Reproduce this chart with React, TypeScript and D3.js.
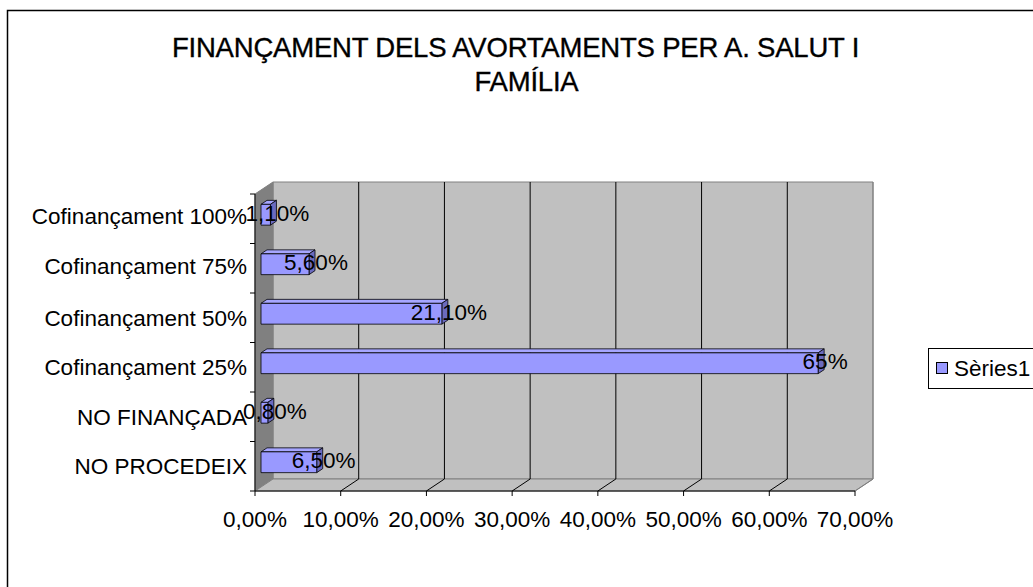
import React from "react";
import * as d3 from "d3";

const categories = [
  "Cofinançament 100%",
  "Cofinançament 75%",
  "Cofinançament 50%",
  "Cofinançament 25%",
  "NO FINANÇADA",
  "NO PROCEDEIX",
];
const values = [0.011, 0.056, 0.211, 0.65, 0.008, 0.065];
const valueLabels = ["1,10%", "5,60%", "21,10%", "65%", "0,80%", "6,50%"];
const tickValues = [0, 0.1, 0.2, 0.3, 0.4, 0.5, 0.6, 0.7];
const tickLabels = ["0,00%", "10,00%", "20,00%", "30,00%", "40,00%", "50,00%", "60,00%", "70,00%"];
const seriesName = "Sèries1";
const titleLines = ["FINANÇAMENT DELS AVORTAMENTS PER A. SALUT I", "FAMÍLIA"];

const W = 1033;
const H = 587;
const FONT = "'Liberation Sans', Arial, sans-serif";

export default function App() {
  const x0 = 255, x1 = 855, yTop = 194, yBot = 491;
  const DX = 18, DY = -12;
  const x = d3.scaleLinear().domain([0, 0.7]).range([x0, x1]);
  const y = d3.scaleBand<string>().domain(categories).range([yTop, yBot]).paddingInner(0.58).paddingOuter(0.29);
  const yb = d3.scaleBand<string>().domain(categories).range([yTop, yBot]);
  const pts = (arr: number[][]) => arr.map((p) => p.join(",")).join(" ");

  const fx = DX / 3, fy = DY / 3; // bar front depth offset
  const bx = (2 * DX) / 3, by = (2 * DY) / 3; // bar back depth offset
  const titleX = [515.5, 526.5];
  const titleY = [56.5, 90.5];

  return (
    <svg width={W} height={H} style={{ position: "absolute", left: 0, top: 0, background: "#fff" }} fontFamily={FONT}>
      <rect x={7.5} y={10.5} width={1200} height={800} fill="#fff" stroke="#000" strokeWidth={1.5} />
      {titleLines.map((t, i) => (
        <text key={i} x={titleX[i]} y={titleY[i]} textAnchor="middle" fontSize={27.5} fill="#000" stroke="#000" strokeWidth={0.35} letterSpacing={-0.2}>
          {t}
        </text>
      ))}
      {/* back wall */}
      <polygon points={pts([[x0 + DX, yTop + DY], [x1 + DX, yTop + DY], [x1 + DX, yBot + DY], [x0 + DX, yBot + DY]])} fill="#c0c0c0" stroke="#808080" strokeWidth={1} />
      {/* left wall */}
      <polygon points={pts([[x0, yTop], [x0 + DX, yTop + DY], [x0 + DX, yBot + DY], [x0, yBot]])} fill="#808080" stroke="#808080" strokeWidth={1} />
      {/* floor */}
      <polygon points={pts([[x0, yBot], [x1, yBot], [x1 + DX, yBot + DY], [x0 + DX, yBot + DY]])} fill="#c0c0c0" stroke="#808080" strokeWidth={1} />
      {/* gridlines */}
      {tickValues.slice(1).map((v, i) => (
        <g key={i}>
          <line x1={x(v) + DX} x2={x(v) + DX} y1={yTop + DY} y2={yBot + DY} stroke={v === 0.7 ? "#808080" : "#000"} strokeWidth={1} />
          <line x1={x(v)} y1={yBot} x2={x(v) + DX} y2={yBot + DY} stroke={v === 0.7 ? "#808080" : "#000"} strokeWidth={1} />
        </g>
      ))}
      {/* axes */}
      <line x1={x0} x2={x0} y1={yTop} y2={yBot} stroke="#000" strokeWidth={1} />
      <line x1={x0} x2={x1} y1={yBot} y2={yBot} stroke="#000" strokeWidth={1} />
      {categories.map((c, i) => (
        <line key={i} x1={x0 - 5} x2={x0} y1={yb(c)!} y2={yb(c)!} stroke="#000" />
      ))}
      <line x1={x0 - 5} x2={x0} y1={yBot} y2={yBot} stroke="#000" />
      {tickValues.map((v, i) => (
        <line key={i} x1={x(v)} x2={x(v)} y1={yBot} y2={yBot + 5} stroke="#000" />
      ))}
      {tickValues.map((v, i) => (
        <text key={i} x={x(v)} y={527} textAnchor="middle" fontSize={22.5} fill="#000">
          {tickLabels[i]}
        </text>
      ))}
      {categories.map((c, i) => (
        <text key={i} x={247} y={yb(c)! + yb.bandwidth() / 2 + 8 - (i === 0 ? 3 : i === 1 ? 2 : 0)} textAnchor="end" fontSize={22.5} fill="#000">
          {c}
        </text>
      ))}
      {/* bars */}
      {categories.map((c, i) => {
        const xs = x(0) + fx;
        const xe = x(values[i]) + fx;
        const yt = y(c)! + fy;
        const ybm = yt + y.bandwidth();
        const ddx = bx - fx, ddy = by - fy;
        return (
          <g key={i} stroke="#000" strokeWidth={0.8} strokeLinejoin="round">
            <polygon points={pts([[xs, yt], [xe, yt], [xe + ddx, yt + ddy], [xs + ddx, yt + ddy]])} fill="#a6a6ff" />
            <polygon points={pts([[xe, yt], [xe + ddx, yt + ddy], [xe + ddx, ybm + ddy], [xe, ybm]])} fill="#6b6bbf" />
            <rect x={xs} y={yt} width={xe - xs} height={ybm - yt} fill="#9999ff" />
          </g>
        );
      })}
      {categories.map((c, i) => (
        <text key={i} x={x(values[i]) + (fx + bx) / 2 + 4} y={y(c)! + (fy + by) / 2 + y.bandwidth() / 2 + 8} textAnchor="middle" fontSize={22.5} fill="#000">
          {valueLabels[i]}
        </text>
      ))}
      {/* legend */}
      <rect x={928.5} y={348.5} width={200} height={40} fill="#fff" stroke="#000" strokeWidth={1} />
      <rect x={936.5} y={362.5} width={11} height={11} fill="#9999ff" stroke="#000" strokeWidth={1} />
      <text x={954} y={376} fontSize={22.5} fill="#000">{seriesName}</text>
    </svg>
  );
}
